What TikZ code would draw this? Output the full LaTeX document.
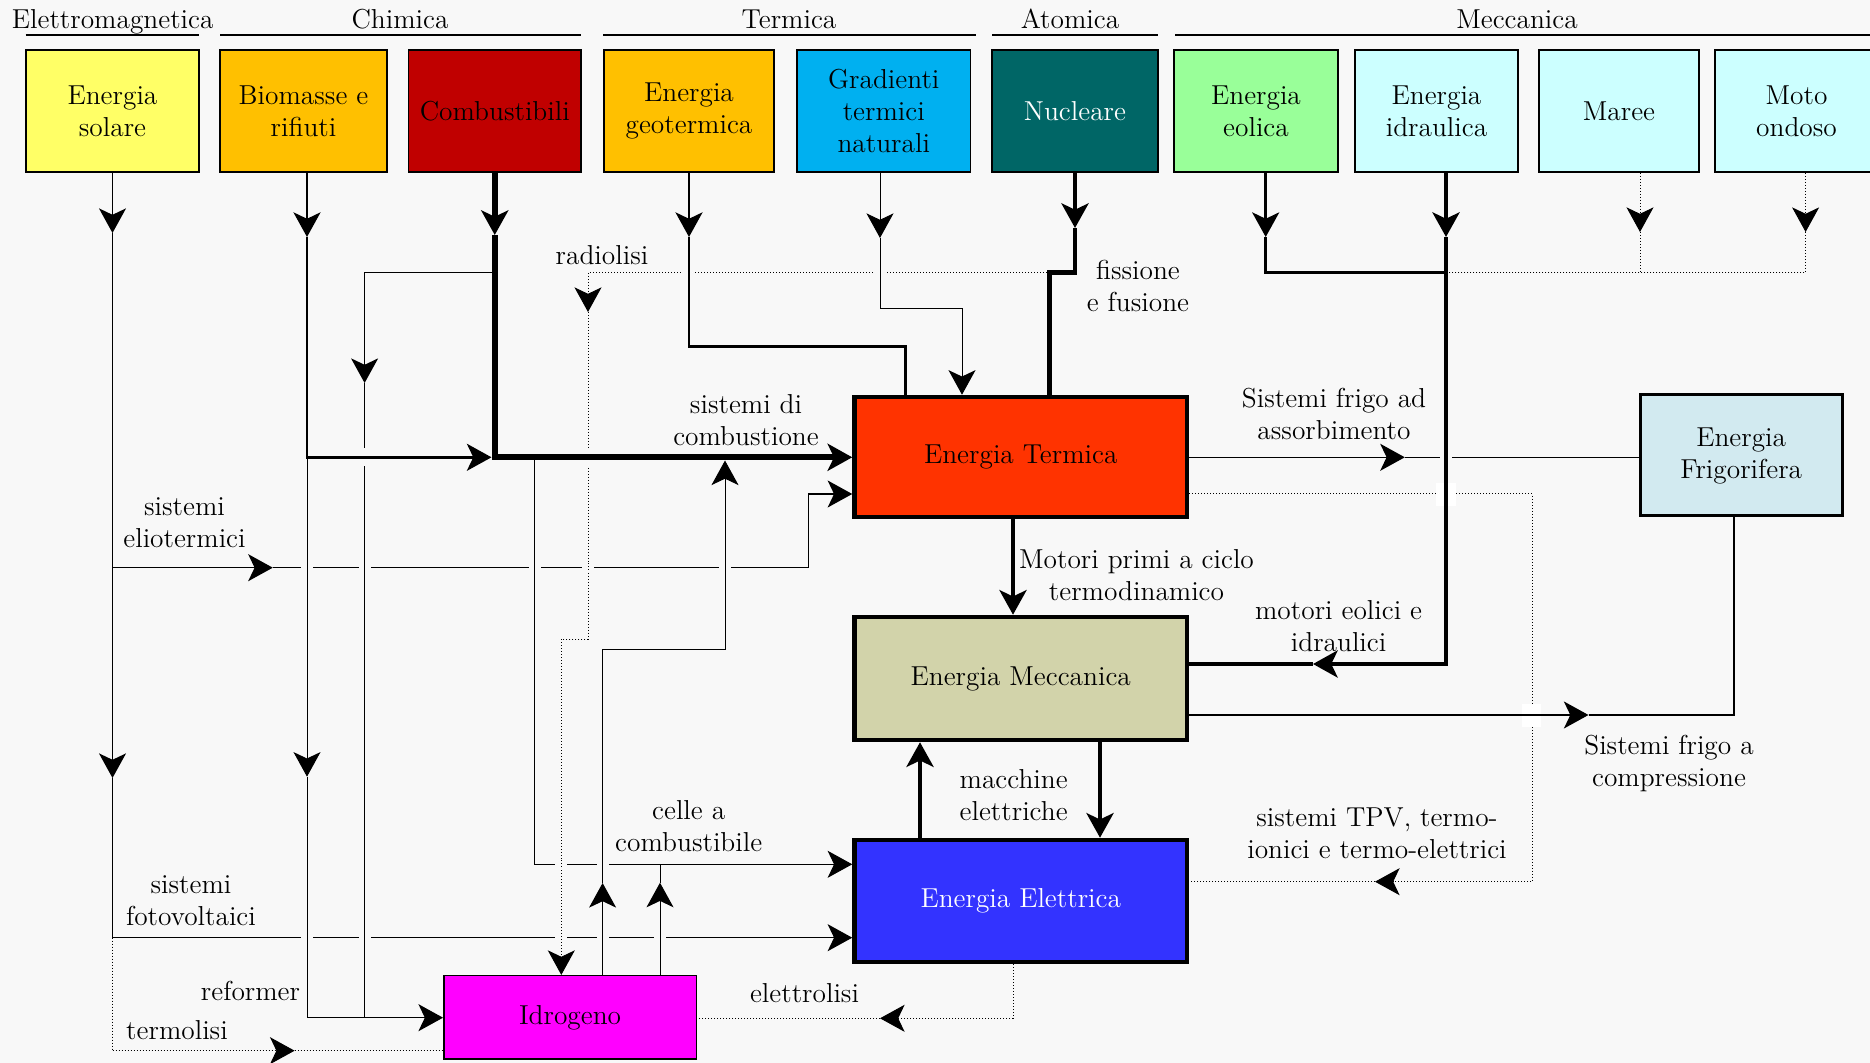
\documentclass[tikz,border=0pt]{standalone}
\usetikzlibrary{arrows.meta}
\definecolor{bgc}{HTML}{F8F8F8}
\definecolor{cSol}{HTML}{FFFF66}
\definecolor{cOra}{HTML}{FFC000}
\definecolor{cComb}{HTML}{C00000}
\definecolor{cGrad}{HTML}{00B0F0}
\definecolor{cNuc}{HTML}{006666}
\definecolor{cEol}{HTML}{99FF99}
\definecolor{cAcq}{HTML}{CCFFFF}
\definecolor{cTerm}{HTML}{FF3300}
\definecolor{cMecc}{HTML}{D2D3AA}
\definecolor{cElet}{HTML}{3333FF}
\definecolor{cFrig}{HTML}{D2EAF0}
\definecolor{cIdro}{HTML}{FF00FF}
\newcommand\myfs{\fontsize{13.7pt}{16pt}\selectfont}
\newcommand\gapH[3]{%
  \fill[bgc] (#1-6,#2-3.5) rectangle (#1+6,#2+3.5);
  \draw[#3] (#1,#2-4.5) -- (#1,#2+4.5);}
\newcommand\gapV[3]{%
  \fill[bgc] (#1-3,#2-9) rectangle (#1+3,#2+9);
  \draw[#3] (#1-4.5,#2) -- (#1+4.5,#2);}
\begin{document}
\begin{tikzpicture}[x=0.5pt,y=-0.5pt,
  >={Stealth[length=12.3pt,width=13.5pt,inset=3.2pt]},
  src/.style={draw=black,line width=0.9pt,align=center,font=\myfs,inner sep=2pt,minimum height=61pt},
  big/.style={draw=black,line width=2.25pt,align=center,font=\myfs,inner sep=2pt,minimum width=166.25pt},
  lbl/.style={align=center,font=\myfs,inner sep=0pt},
  hdr/.style={font=\myfs,anchor=base,inner sep=0pt},
  lthin/.style={line width=0.5pt},
  lnorm/.style={line width=0.75pt},
  lmed/.style={line width=1.25pt},
  lthick/.style={line width=2.25pt},
  lvthick/.style={line width=3pt},
  ldot/.style={line width=0.5pt,densely dotted},
  uline/.style={line width=0.7pt}
]
\fill[bgc] (0,0) rectangle (1870,1063);
\useasboundingbox (0,0) rectangle (1870,1063);
\clip (0,0) rectangle (1870,1063);

% ---------- headers
\node[hdr] (hEl) at (112.7,28.5) {Elettromagnetica};
\node[hdr] (hCh) at (400,28.5) {Chimica};
\node[hdr] (hTe) at (789,28.5) {Termica};
\node[hdr] (hAt) at (1070,28.5) {Atomica};
\node[hdr] (hMe) at (1517,28.5) {Meccanica};
\draw[uline] (25.7,35) -- (199,35);
\draw[uline] (220,35) -- (581,35);
\draw[uline] (603,35) -- (976,35);
\draw[uline] (992,35) -- (1157.5,35);
\draw[uline] (1175,35) -- (1870,35);

% ---------- source boxes
\node[src,fill=cSol,minimum width=86.5pt] (sol) at (112.5,111) {Energia\\solare};
\node[src,fill=cOra,minimum width=83.5pt] (bio) at (303.5,111) {Biomasse e\\rifiuti};
\node[src,fill=cComb,minimum width=86.25pt] (comb) at (494.75,111) {Combustibili};
\node[src,fill=cOra,minimum width=85pt] (geo) at (689,111) {Energia\\geotermica};
\node[src,fill=cGrad,minimum width=86.75pt] (grad) at (883.75,111) {Gradienti\\termici\\naturali};
\node[src,fill=cNuc,text=white,minimum width=83pt] (nuc) at (1075,111) {Nucleare};
\node[src,fill=cEol,minimum width=82pt] (eol) at (1256,111) {Energia\\eolica};
\node[src,fill=cAcq,minimum width=81.5pt] (idr) at (1436.5,111) {Energia\\idraulica};
\node[src,fill=cAcq,minimum width=80pt] (mar) at (1619,111) {Maree};
\node[src,fill=cAcq,minimum width=81.5pt] (ond) at (1796.5,111) {Moto\\ondoso};

% ---------- main boxes
\node[big,fill=cTerm,minimum height=60pt] (term) at (1020.75,457) {Energia Termica};
\node[big,fill=cMecc,minimum height=61.5pt] (mecc) at (1020.75,678.5) {Energia Meccanica};
\node[big,fill=cElet,text=white,minimum height=61pt] (elet) at (1020.75,901) {Energia Elettrica};
\node[draw=black,line width=1.5pt,fill=cFrig,align=center,font=\myfs,minimum width=101.2pt,minimum height=60.5pt] (frig) at (1741.2,455.5) {Energia\\Frigorifera};
\node[draw=black,line width=0.75pt,fill=cIdro,font=\myfs,minimum width=126.3pt,minimum height=41.65pt] (idro) at (570.1,1017.35) {Idrogeno};

% ---------- named junctions
\coordinate (sE) at (112.5,567.7);
\coordinate (sF) at (112.5,937.7);
\coordinate (sT) at (112.5,1050.7);
\coordinate (cJ) at (comb.south |- 0,457.3);
\coordinate (cL) at (491.5,457.3);
\coordinate (rN) at (1049.7,272.7);
\coordinate (iM) at (1446,664);

% ---------- solar
\draw[lnorm,->] (sol.south) -- (112.5,233);
\draw[lnorm,->] (112.5,233) -- (112.5,778);
\draw[lnorm] (112.5,778) -- (sF);
\draw[lnorm,->] (sE) -- (272.8,567.7);
\draw[lnorm,->] (272.8,567.7) -- (808.6,567.7) -- (808.6,494) -- (term.west |- 0,494);
\draw[lnorm,->] (sF) -- (elet.west |- sF);
\draw[ldot] (sF) -- (sT);
\draw[ldot,->] (sT) -- (294.6,1050.7);
\draw[ldot] (294.6,1050.7) -- (idro.west |- sT);

% ---------- biomasse
\draw[lmed,->] (307,0 |- bio.south) -- (307,237);
\draw[lmed,->] (307,237) -- (307,457.3) -- (cL);
\draw[lthin,->] (307,457.3) -- (307,776.7);
\draw[lthin] (307,776.7) -- (307,1017.7) -- (364.6,1017.7);

% ---------- combustibili
\draw[lvthick,->] (comb.south) -- (comb.south |- 0,235);
\draw[lvthick,->] (comb.south |- 0,235) -- (cJ) -- (term.west |- cJ);
\draw[lnorm,->] (comb.south |- 0,272.7) -- (364.6,272.7) -- (364.6,383);
\draw[lnorm,->] (364.6,383) -- (364.6,1017.7) -- (idro.west |- 0,1017.7);
\draw[lthin,->] (534.5,457.3) -- (534.5,864.3) -- (elet.west |- 0,864.3);

% ---------- idrogeno outputs
\draw[lthin,->] (602.6,0 |- idro.north) -- (602.6,883);
\draw[lthin,->] (602.6,883) -- (602.6,649.3) -- (725,649.3) -- (725,460.5);
\draw[lthin,->] (660,0 |- idro.north) -- (660,882.7);
\draw[lthin] (660,882.7) -- (660,864.3);

% ---------- radiolisi
\draw[ldot,->] (rN) -- (588,272.7) -- (588,312);
\draw[ldot,->] (588,312) -- (588,639.3) -- (561.3,639.3) -- (561.3,0 |- idro.north);

% ---------- termica sources
\draw[lmed,->] (geo.south) -- (geo.south |- 0,237);
\draw[lmed] (geo.south |- 0,237) -- (689,346.7) -- (905.5,346.7) -- (905.5,0 |- term.north);
\draw[lthin,->] (880,0 |- grad.south) -- (880,238);
\draw[lthin,->] (880,238) -- (880,309) -- (962,309) -- (962,0 |- term.north);
\draw[lthick,->] (nuc.south) -- (nuc.south |- 0,228);
\draw[lthick] (nuc.south |- 0,228) -- (nuc.south |- rN) -- (rN) -- (rN |- term.north);

% ---------- meccanica sources
\draw[lmed,->] (1265.7,0 |- eol.south) -- (1265.7,237);
\draw[lmed] (1265.7,237) -- (1265.7,272.7) -- (1446,272.7);
\draw[ldot,->] (1640,0 |- mar.south) -- (1640,232);
\draw[ldot] (1640,232) -- (1640,272.7);
\draw[ldot,->] (1805.6,0 |- ond.south) -- (1805.6,232);
\draw[ldot] (1805.6,232) -- (1805.6,272.7) -- (1446,272.7);
\draw[lthick,->] (1446,0 |- idr.south) -- (1446,237);
\draw[lthick,->] (1446,237) -- (iM) -- (1313,664);
\draw[lthick] (1313,664) -- (mecc.east |- iM);

% ---------- outputs of termica / meccanica / elettrica
\draw[lnorm,->] (term.east |- 0,457.3) -- (1404.8,457.3);
\draw[lnorm] (1404.8,457.3) -- (frig.west |- 0,457.3);
\draw[ldot,->] (term.east |- 0,494) -- (1532.3,494) -- (1532.3,881.7) -- (1375,881.7);
\draw[ldot] (1375,881.7) -- (elet.east |- 0,881.7);
\draw[lnorm,->] (mecc.east |- 0,715) -- (1588.5,715);
\draw[lnorm] (1588.5,715) -- (1734,715) -- (1734,0 |- frig.south);
\draw[lthick,->] (1013,0 |- term.south) -- (1013,0 |- mecc.north);
\draw[lthick,->] (920,0 |- elet.north) -- (920,0 |- mecc.south);
\draw[lthick,->] (1100,0 |- mecc.south) -- (1100,0 |- elet.north);
\draw[ldot,->] (1013,0 |- elet.south) -- (1013,1018.3) -- (880,1018.3);
\draw[ldot] (880,1018.3) -- (idro.east |- 0,1018.3);

% ---------- line jumps
\gapH{307}{567.7}{lthin}
\gapH{364.6}{567.7}{lnorm}
\gapH{534.5}{567.7}{lthin}
\gapH{588}{567.7}{ldot}
\gapH{725}{567.7}{lthin}
\gapH{307}{937.7}{lthin}
\gapH{364.6}{937.7}{lnorm}
\gapH{561.3}{937.7}{ldot}
\gapH{602.6}{937.7}{lthin}
\gapH{660}{937.7}{lthin}
\gapH{561.3}{864.3}{ldot}
\gapH{602.6}{864.3}{lthin}
\gapH{689}{272.7}{lmed}
\gapH{880}{272.7}{lthin}
\gapH{1446}{457.3}{lthick}
\gapV{364.6}{457.3}{lmed}
\gapV{588}{457.3}{lvthick}
\fill[white] (1436,483) rectangle (1456,506);
\draw[lthick] (1446,481) -- (1446,508);
\fill[white] (1522,704) rectangle (1541,727);
\draw[lnorm] (1520,715) -- (1543,715);

% ---------- labels
\node[lbl] (lRad) at (602,255) {radiolisi};
\node[lbl] (lFis) at (1138,286) {fissione\\e fusione};
\node[lbl] (lComb) at (746,420) {sistemi di\\combustione};
\node[lbl] (lMot) at (1136.5,575) {Motori primi a ciclo\\termodinamico};
\node[lbl] (lMac) at (1013.7,795.5) {macchine\\elettriche};
\node[lbl] (lCel) at (688.7,826.5) {celle a\\combustibile};
\node[lbl] (lEltr) at (804.5,993.4) {elettrolisi};
\node[lbl] (lAss) at (1334,414.3) {Sistemi frigo ad\\assorbimento};
\node[lbl] (lMeI) at (1338.6,626) {motori eolici e\\idraulici};
\node[lbl] (lCom) at (1669,763.3) {Sistemi frigo a\\compressione};
\node[lbl] (lTPV) at (1377,833.6) {sistemi TPV, termo-\\ionici e termo-elettrici};
\node[lbl] (lEli) at (184.5,523) {sistemi\\eliotermici};
\node[lbl] (lFot) at (191,900.5) {sistemi\\fotovoltaici};
\node[lbl,anchor=east] (lRef) at (300.5,991) {reformer};
\node[lbl] (lTer) at (177,1030.4) {termolisi};
\end{tikzpicture}
\end{document}
